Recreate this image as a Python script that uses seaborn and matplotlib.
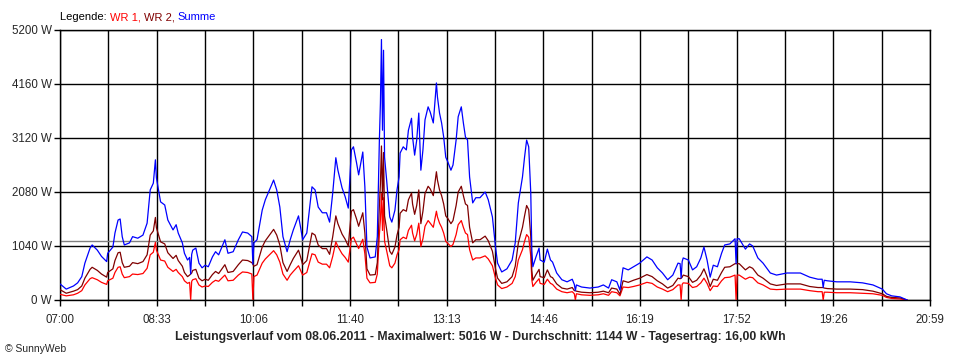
import numpy as np
import pandas as pd
import matplotlib
matplotlib.use("Agg")
import matplotlib.pyplot as plt
import seaborn as sns

zeit = ["07:00", "07:06", "07:13", "07:17", "07:21", "07:24", "07:29", "07:31", "07:36", "07:40",
        "07:45", "07:46", "07:51", "07:53", "07:56", "07:58", "08:00", "08:02", "08:07", "08:10",
        "08:15", "08:20", "08:24", "08:27", "08:30", "08:32", "08:33", "08:37", "08:41", "08:44",
        "08:49", "08:52", "08:54", "08:58", "09:00", "09:03", "09:05", "09:06", "09:07", "09:08",
        "09:11", "09:14", "09:17", "09:20", "09:23", "09:27", "09:30", "09:33", "09:39", "09:42",
        "09:47", "09:52", "09:56", "10:01", "10:05", "10:06", "10:07", "10:10", "10:15", "10:18",
        "10:22", "10:26", "10:29", "10:32", "10:35", "10:39", "10:42", "10:45", "10:50", "10:52",
        "10:54", "10:58", "11:03", "11:06", "11:09", "11:13", "11:17", "11:20", "11:23", "11:26",
        "11:28", "11:32", "11:35", "11:38", "11:41", "11:43", "11:46", "11:48", "11:52", "11:54",
        "11:56", "11:59", "12:04", "12:06", "12:08", "12:09", "12:10", "12:11", "12:12", "12:13",
        "12:15", "12:18", "12:20", "12:23", "12:25", "12:27", "12:28", "12:31", "12:34", "12:36",
        "12:39", "12:40", "12:42", "12:44", "12:46", "12:48", "12:50", "12:52", "12:55", "12:57",
        "13:00", "13:01", "13:03", "13:04", "13:06", "13:08", "13:10", "13:12", "13:14", "13:17",
        "13:19", "13:22", "13:24", "13:27", "13:29", "13:31", "13:33", "13:35", "13:38", "13:41",
        "13:45", "13:50", "13:53", "13:57", "14:00", "14:02", "14:06", "14:11", "14:16", "14:19",
        "14:22", "14:26", "14:28", "14:30", "14:32", "14:34", "14:35", "14:36", "14:39", "14:42",
        "14:43", "14:47", "14:50", "14:53", "14:55", "14:59", "15:04", "15:09", "15:14", "15:16",
        "15:17", "15:18", "15:23", "15:31", "15:39", "15:44", "15:49", "15:52", "15:57", "16:00",
        "16:03", "16:08", "16:13", "16:19", "16:26", "16:31", "16:36", "16:41", "16:46", "16:51",
        "16:56", "16:58", "16:59", "17:00", "17:01", "17:06", "17:10", "17:14", "17:18", "17:21",
        "17:24", "17:27", "17:30", "17:34", "17:38", "17:41", "17:46", "17:51", "17:52", "17:53",
        "17:55", "18:01", "18:05", "18:08", "18:13", "18:18", "18:25", "18:31", "18:41", "18:54",
        "19:03", "19:11", "19:15", "19:16", "19:17", "19:20", "19:29", "19:42", "19:54", "20:04",
        "20:13", "20:17", "20:22", "20:30", "20:37"]

summe = [310, 210, 270, 330, 450, 710, 1000, 1060, 960, 840,
         740, 900, 1020, 1290, 1540, 1560, 1220, 1060, 1100, 1220,
         1190, 1250, 1480, 2120, 2250, 2700, 2350, 1890, 1830, 1540,
         1350, 1450, 1290, 1100, 900, 770, 820, 500, 880, 960,
         1000, 710, 620, 670, 640, 830, 930, 870, 1160, 900,
         930, 1160, 1310, 1290, 1220, 690, 1100, 1160, 1730, 1930,
         2120, 2310, 2120, 1790, 1220, 930, 1160, 1350, 1620, 1400,
         1160, 1290, 2180, 2120, 1790, 1680, 1680, 1500, 2060, 2740,
         2500, 2160, 1990, 1770, 2890, 2950, 2640, 2410, 2850, 2180,
         1020, 810, 830, 1220, 3080, 3790, 5016, 3270, 4810, 2750,
         2310, 1600, 1500, 1730, 2120, 2370, 2830, 2950, 2890, 3270,
         3500, 3140, 2790, 3080, 3600, 2500, 2890, 3470, 3720, 3620,
         3410, 3660, 4180, 3910, 3600, 3410, 3140, 2750, 2660, 2500,
         2600, 3080, 3530, 3720, 3410, 3140, 3080, 2370, 1870, 1970,
         1970, 2080, 1930, 1600, 1020, 710, 540, 600, 770, 1100,
         1870, 2370, 2750, 3080, 2950, 2060, 960, 640, 830, 1000,
         770, 730, 980, 770, 730, 520, 390, 350, 400, 300,
         180, 290, 250, 230, 250, 290, 230, 390, 350, 190,
         620, 580, 640, 710, 830, 770, 620, 520, 390, 480,
         710, 700, 420, 740, 810, 770, 580, 640, 810, 1020,
         770, 440, 670, 640, 900, 1060, 1080, 1180, 700, 1180,
         1180, 980, 1080, 1040, 810, 710, 520, 480, 520, 520,
         440, 400, 400, 240, 380, 370, 350, 350, 330, 290,
         210, 120, 80, 60, 0]

wr1 = [110, 80, 100, 130, 180, 290, 410, 430, 390, 340,
       300, 370, 420, 530, 630, 640, 500, 430, 450, 500,
       490, 510, 610, 870, 920, 1110, 960, 770, 750, 630,
       550, 590, 530, 450, 370, 320, 340, 0, 360, 390,
       410, 290, 250, 270, 260, 340, 380, 360, 480, 370,
       380, 480, 540, 530, 500, 0, 450, 480, 710, 790,
       870, 950, 870, 730, 500, 380, 480, 550, 660, 570,
       480, 530, 890, 870, 730, 690, 690, 620, 840, 1120,
       1030, 890, 820, 730, 1180, 1210, 1080, 990, 1170, 890,
       420, 330, 340, 500, 1260, 1550, 2050, 1340, 1970, 1130,
       950, 660, 620, 710, 870, 970, 1160, 1210, 1180, 1340,
       1440, 1290, 1140, 1260, 1480, 1030, 1180, 1420, 1530, 1480,
       1400, 1500, 1710, 1600, 1480, 1400, 1290, 1130, 1090, 1030,
       1070, 1260, 1450, 1530, 1400, 1290, 1260, 970, 770, 810,
       810, 850, 790, 660, 420, 290, 220, 250, 320, 450,
       770, 970, 1130, 1260, 1210, 840, 390, 260, 340, 410,
       320, 300, 400, 320, 300, 210, 160, 140, 160, 120,
       0, 120, 100, 90, 100, 120, 90, 160, 140, 80,
       250, 240, 260, 290, 340, 320, 250, 210, 160, 200,
       290, 290, 0, 300, 330, 320, 240, 260, 330, 420,
       320, 180, 270, 260, 370, 430, 440, 480, 0, 480,
       480, 400, 440, 430, 330, 290, 210, 200, 210, 210,
       180, 160, 160, 0, 150, 150, 140, 140, 130, 120,
       90, 50, 30, 20, 0]

wr2 = [200, 130, 170, 200, 270, 420, 590, 630, 570, 500,
       440, 530, 600, 760, 910, 920, 720, 630, 650, 720,
       700, 740, 870, 1250, 1330, 1590, 1390, 1120, 1080, 910,
       800, 860, 760, 650, 530, 450, 480, 500, 520, 570,
       590, 420, 370, 400, 380, 490, 550, 510, 680, 530,
       550, 680, 770, 760, 720, 690, 650, 680, 1020, 1140,
       1250, 1360, 1250, 1060, 720, 550, 680, 800, 960, 830,
       680, 760, 1290, 1250, 1060, 990, 990, 880, 1220, 1620,
       1470, 1270, 1170, 1040, 1710, 1740, 1560, 1420, 1680, 1290,
       600, 480, 490, 720, 1820, 2240, 2966, 1930, 2840, 1620,
       1360, 940, 880, 1020, 1250, 1400, 1670, 1740, 1710, 1930,
       2060, 1850, 1650, 1820, 2120, 1470, 1710, 2050, 2190, 2140,
       2010, 2160, 2470, 2310, 2120, 2010, 1850, 1620, 1570, 1470,
       1530, 1820, 2080, 2190, 2010, 1850, 1820, 1400, 1100, 1160,
       1160, 1230, 1140, 940, 600, 420, 320, 350, 450, 650,
       1100, 1400, 1620, 1820, 1740, 1220, 570, 380, 490, 590,
       450, 430, 580, 450, 430, 310, 230, 210, 240, 180,
       180, 170, 150, 140, 150, 170, 140, 230, 210, 110,
       370, 340, 380, 420, 490, 450, 370, 310, 230, 280,
       420, 410, 420, 440, 480, 450, 340, 380, 480, 600,
       450, 260, 400, 380, 530, 630, 640, 700, 700, 700,
       700, 580, 640, 610, 480, 420, 310, 280, 310, 310,
       260, 240, 240, 240, 230, 220, 210, 210, 200, 170,
       120, 70, 50, 40, 0]

x_labels = ["07:00", "08:33", "10:06", "11:40", "13:13", "14:46", "16:19", "17:52", "19:26", "20:59"]
y_werte = [0, 1040, 2080, 3120, 4160, 5200]
durchschnitt = 1144
titel = ("Leistungsverlauf vom 08.06.2011 - Maximalwert: 5016 W - "
         "Durchschnitt: 1144 W - Tagesertrag: 16,00 kWh")

t = pd.to_datetime(pd.Series(zeit), format="%H:%M")
minuten = (t.dt.hour * 60 + t.dt.minute - 420).to_numpy()

df = pd.DataFrame({"min": minuten, "WR 1": wr1, "WR 2": wr2, "Summe": summe})
long = df.melt(id_vars="min", var_name="Serie", value_name="W")

sns.set_style("white")
plt.rcParams["font.family"] = ["Liberation Sans", "DejaVu Sans"]

fig = plt.figure(figsize=(9.6, 3.6), dpi=100)
ax = fig.add_axes([60 / 960, 60 / 360, 870 / 960, 270 / 360])

# 18 Intervalle von 07:00 bis 20:59
span = 839
grid_x = np.linspace(0, span, 19)
for gx in grid_x:
    ax.axvline(gx, color="black", lw=1.0, zorder=1)
for gy in y_werte:
    ax.axhline(gy, color="black", lw=1.0, zorder=1)
ax.axhline(durchschnitt, color="#808080", lw=1.0, zorder=1.5)

farben = {"WR 1": "#ff0000", "WR 2": "#800000", "Summe": "#0000ff"}
sns.lineplot(data=long, x="min", y="W", hue="Serie", palette=farben,
             estimator=None, sort=False, lw=0.9, ax=ax, legend=False, zorder=3)

ax.set_xlim(0, span)
ax.set_ylim(0, 5200)
ax.set_xticks(grid_x)
ax.set_xticklabels([x_labels[i // 2] if i % 2 == 0 else "" for i in range(19)])
ax.set_yticks(y_werte)
ax.set_yticklabels([f"{v} W" for v in y_werte])
ax.tick_params(axis="both", direction="out", length=4, width=1, color="black",
               labelsize=8.3, pad=2, left=True, bottom=True)
ax.tick_params(axis="x", pad=6)
ax.set_xlabel("")
ax.set_ylabel("")
for s in ax.spines.values():
    s.set_color("black")
    s.set_linewidth(1.0)

# Legende oben links, mehrfarbig aneinandergehaengt
fs = 8
prev = fig.text(60 / 960, 1 - 17 / 360, "Legende: ", fontsize=fs, color="black", va="center")
for label, col in [("WR 1, ", "#ff0000"), ("WR 2, ", "#800000"), ("Summe", "#0000ff")]:
    prev = ax.annotate(label, xy=(1, 0), xycoords=prev, fontsize=fs, color=col,
                       va="bottom", ha="left", annotation_clip=False)

fig.text(0.5, 1 - 337 / 360, titel, fontsize=8.8, fontweight="bold", ha="center", va="center")
fig.text(5 / 960, 1 - 349 / 360, "© SunnyWeb", fontsize=7.5, ha="left", va="center")

fig.savefig("out.png", dpi=100)
